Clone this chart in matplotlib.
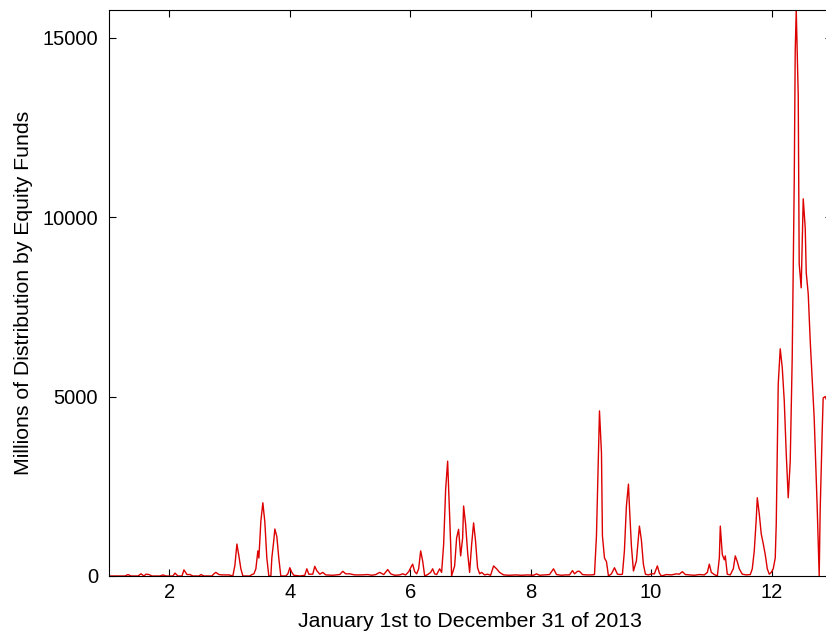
import matplotlib
matplotlib.use("Agg")
import matplotlib.pyplot as plt

plt.rcParams['font.family'] = ['Liberation Sans', 'DejaVu Sans']

month = [
    1.000, 1.265, 1.315, 1.365, 1.481, 1.531, 1.580, 1.614, 1.663, 1.713,
    1.846, 1.896, 1.945, 2.061, 2.095, 2.144, 2.211, 2.244, 2.294, 2.343,
    2.393, 2.493, 2.526, 2.575, 2.708, 2.741, 2.774, 2.824, 2.874, 2.940,
    2.990, 3.056, 3.090, 3.123, 3.156, 3.189, 3.222, 3.338, 3.372, 3.405,
    3.438, 3.471, 3.488, 3.521, 3.554, 3.587, 3.620, 3.653, 3.687, 3.703,
    3.736, 3.753, 3.786, 3.819, 3.852, 3.935, 3.969, 4.002, 4.035, 4.068,
    4.168, 4.250, 4.284, 4.317, 4.383, 4.416, 4.449, 4.499, 4.549, 4.599,
    4.715, 4.831, 4.881, 4.930, 4.997, 5.080, 5.196, 5.295, 5.362, 5.428,
    5.494, 5.561, 5.627, 5.677, 5.743, 5.826, 5.876, 5.925, 5.975, 6.008,
    6.041, 6.075, 6.108, 6.141, 6.174, 6.207, 6.241, 6.290, 6.340, 6.373,
    6.406, 6.440, 6.489, 6.522, 6.556, 6.589, 6.622, 6.639, 6.672, 6.688,
    6.738, 6.771, 6.804, 6.838, 6.871, 6.887, 6.920, 6.954, 6.987, 7.020,
    7.053, 7.086, 7.119, 7.153, 7.186, 7.236, 7.285, 7.335, 7.385, 7.435,
    7.484, 7.551, 7.650, 7.750, 7.849, 7.949, 8.048, 8.098, 8.148, 8.231,
    8.314, 8.380, 8.430, 8.513, 8.579, 8.645, 8.695, 8.728, 8.778, 8.811,
    8.861, 8.927, 9.010, 9.060, 9.093, 9.126, 9.143, 9.176, 9.192, 9.226,
    9.259, 9.292, 9.342, 9.392, 9.441, 9.491, 9.524, 9.557, 9.590, 9.624,
    9.640, 9.673, 9.707, 9.756, 9.790, 9.806, 9.839, 9.872, 9.906, 9.955,
    10.005, 10.055, 10.104, 10.138, 10.171, 10.254, 10.337, 10.420, 10.469, 10.519,
    10.569, 10.635, 10.718, 10.801, 10.884, 10.934, 10.967, 11.000, 11.050, 11.100,
    11.133, 11.149, 11.182, 11.216, 11.232, 11.265, 11.315, 11.365, 11.398, 11.431,
    11.464, 11.514, 11.580, 11.647, 11.680, 11.713, 11.746, 11.763, 11.796, 11.829,
    11.862, 11.895, 11.929, 11.962, 11.995, 12.028, 12.061, 12.078, 12.111, 12.144,
    12.178, 12.211, 12.244, 12.277, 12.310, 12.343, 12.377, 12.393, 12.410, 12.443,
    12.459, 12.492, 12.526, 12.559, 12.576, 12.609, 12.642, 12.708, 12.758, 12.774,
    12.791, 12.807, 12.841, 12.857, 12.890, 12.940, 12.990,
]

distribution = [
    0, 0, 40, 0, 0, 60, 0, 50, 40, 0,
    0, 30, 0, 0, 80, 0, 0, 170, 40, 40,
    0, 0, 40, 0, 0, 60, 100, 40, 30, 30,
    30, 0, 300, 890, 560, 200, 0, 0, 40, 60,
    200, 700, 500, 1530, 2040, 1500, 500, 0, 0, 500,
    1000, 1310, 1100, 490, 0, 0, 60, 230, 100, 20,
    0, 20, 200, 50, 50, 270, 150, 50, 100, 30,
    20, 40, 130, 60, 60, 30, 30, 40, 20, 40,
    100, 40, 180, 60, 20, 30, 60, 30, 120, 230,
    330, 120, 60, 200, 700, 420, 0, 40, 100, 200,
    60, 40, 200, 100, 890, 2420, 3200, 2400, 890, 0,
    280, 1060, 1300, 560, 1060, 1950, 1450, 650, 100, 870,
    1480, 960, 230, 60, 100, 30, 50, 20, 280, 200,
    100, 30, 20, 30, 20, 30, 20, 60, 20, 30,
    40, 200, 40, 20, 30, 30, 150, 60, 130, 130,
    40, 30, 30, 40, 1120, 3430, 4600, 3430, 1120, 500,
    400, 0, 60, 230, 50, 40, 50, 700, 1950, 2560,
    1950, 840, 140, 420, 1060, 1390, 1000, 330, 50, 30,
    60, 60, 280, 80, 0, 40, 30, 60, 50, 120,
    40, 30, 20, 40, 30, 100, 330, 100, 40, 0,
    500, 1390, 600, 450, 560, 50, 30, 200, 560, 400,
    200, 50, 30, 40, 200, 700, 1590, 2180, 1730, 1170,
    900, 600, 200, 50, 100, 200, 500, 1450, 5350, 6330,
    5800, 4880, 3400, 2180, 3200, 6080, 11070, 14640, 15770, 13380,
    8700, 8030, 10510, 9700, 8450, 7860, 6550, 4400, 1900, 980,
    0, 1810, 4040, 4960, 5000, 4800, 4500,
]

x_ticks = [2, 4, 6, 8, 10, 12]
y_ticks = [0, 5000, 10000, 15000]

fig = plt.figure(figsize=(8.26, 6.38), dpi=100)
ax = fig.add_axes([0.132, 0.0972, 0.875, 0.887])
ax.plot(month, distribution, color='#dc0000', linewidth=1.0)
ax.set_xlim(1, 13)
ax.set_ylim(0, 15770)
ax.set_xticks(x_ticks)
ax.set_yticks(y_ticks)
ax.set_xticklabels([str(t) for t in x_ticks])
ax.set_yticklabels([str(t) for t in y_ticks])
ax.tick_params(direction='in', length=5, width=0.8, top=True, right=True,
               labelsize=14.5, colors='black')
ax.tick_params(axis='x', pad=5)
ax.tick_params(axis='y', pad=8)
for s in ax.spines.values():
    s.set_linewidth(0.8)
ax.set_xlabel('January 1st to December 31 of 2013', fontsize=15.3, labelpad=7)
ax.set_ylabel('Millions of Distribution by Equity Funds', fontsize=15.3, labelpad=7)
fig.savefig('out.png', dpi=100)
